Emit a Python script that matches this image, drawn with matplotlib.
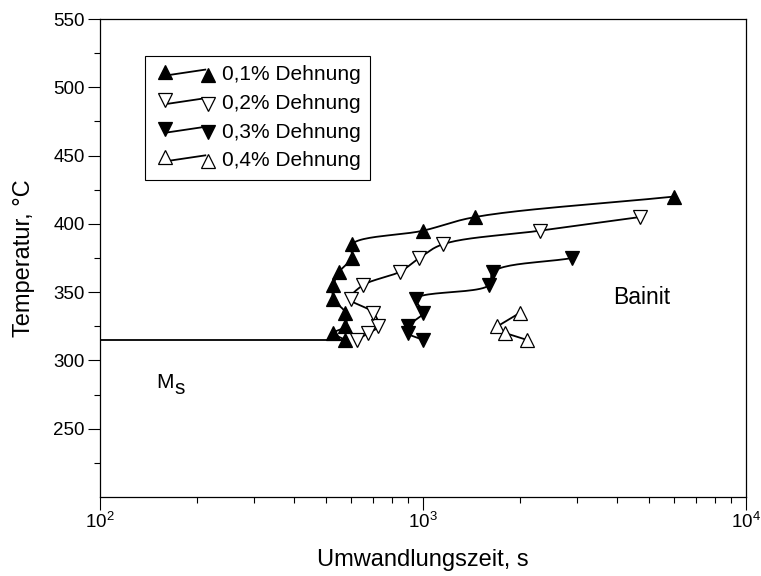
import numpy as np
import matplotlib
matplotlib.use("Agg")
import matplotlib.pyplot as plt
from matplotlib.lines import Line2D
from matplotlib.legend_handler import HandlerLine2D
from matplotlib.ticker import FixedLocator, LogLocator, NullFormatter

# Transformation times (s) and temperatures (deg C) for each strain level
t_01 = [575, 528, 575, 575, 528, 528, 551, 602, 602, 1000, 1450, 6000]
T_01 = [315, 320, 325, 335, 345, 355, 365, 375, 385, 395, 405, 420]

t_02 = [623, 677, 727, 702, 597, 651, 849, 974, 1150, 2300, 4700]
T_02 = [315, 320, 325, 335, 345, 355, 365, 375, 385, 395, 405]

t_03 = [1000, 900, 900, 1000, 950, 1600, 1650, 2900]
T_03 = [315, 320, 325, 335, 345, 355, 365, 375]

t_04 = [2000, 1700, 1800, 2100]
T_04 = [335, 325, 320, 315]

labels = ["0,1% Dehnung", "0,2% Dehnung", "0,3% Dehnung", "0,4% Dehnung"]

# Martensite start temperature line
ms_temp = 315
ms_t = [100, 575]

yticks_major = [250, 300, 350, 400, 450, 500, 550]
yticks_minor = [225, 275, 325, 375, 425, 475, 525]

plt.rcParams["font.family"] = ["Liberation Sans", "DejaVu Sans"]
plt.rcParams["mathtext.fontset"] = "custom"
plt.rcParams["mathtext.rm"] = "Liberation Sans"
plt.rcParams["mathtext.it"] = "Liberation Sans:italic"

fig = plt.figure(figsize=(7.61, 5.76), dpi=100)
ax = fig.add_axes([100 / 761, 1 - 497 / 576, 646 / 761, 478 / 576])
ax.set_xscale("log")
ax.set_xlim(100, 10000)
ax.set_ylim(200, 550)


def smooth_curve(ax, x, y, n=24):
    """Centripetal Catmull-Rom curve through the points, built in display space."""
    P = ax.transData.transform(np.column_stack([x, y]))
    P = np.vstack([2 * P[0] - P[1], P, 2 * P[-1] - P[-2]])
    out = []
    for i in range(1, len(P) - 2):
        p0, p1, p2, p3 = P[i - 1], P[i], P[i + 1], P[i + 2]
        d01 = max(np.linalg.norm(p1 - p0) ** 0.5, 1e-6)
        d12 = max(np.linalg.norm(p2 - p1) ** 0.5, 1e-6)
        d23 = max(np.linalg.norm(p3 - p2) ** 0.5, 1e-6)
        t0, t1 = 0.0, d01
        t2 = t1 + d12
        t3 = t2 + d23
        ts = np.linspace(t1, t2, n)[:, None]
        a1 = (t1 - ts) / (t1 - t0) * p0 + (ts - t0) / (t1 - t0) * p1
        a2 = (t2 - ts) / (t2 - t1) * p1 + (ts - t1) / (t2 - t1) * p2
        a3 = (t3 - ts) / (t3 - t2) * p2 + (ts - t2) / (t3 - t2) * p3
        b1 = (t2 - ts) / (t2 - t0) * a1 + (ts - t0) / (t2 - t0) * a2
        b2 = (t3 - ts) / (t3 - t1) * a2 + (ts - t1) / (t3 - t1) * a3
        c = (t2 - ts) / (t2 - t1) * b1 + (ts - t1) / (t2 - t1) * b2
        out.append(c if i == 1 else c[1:])
    curve = ax.transData.inverted().transform(np.vstack(out))
    return curve[:, 0], curve[:, 1]


lw = 1.3
ms = 9.5
mew = 0.9

series = [
    (t_01, T_01, "^", "black", True),
    (t_02, T_02, "v", "white", True),
    (t_03, T_03, "v", "black", True),
    (t_04, T_04, "^", "white", False),
]

handles = []
for (tx, ty, mk, face, smooth), lab in zip(series, labels):
    if smooth:
        cx, cy = smooth_curve(ax, tx, ty)
    else:
        cx, cy = tx, ty
    ax.plot(cx, cy, color="black", lw=lw, zorder=2)
    h, = ax.plot(tx, ty, linestyle="none", marker=mk, markersize=ms,
                 markerfacecolor=face, markeredgecolor="black",
                 markeredgewidth=mew, zorder=3, label=lab)
    handles.append(h)

ax.plot(ms_t, [ms_temp, ms_temp], color="black", lw=lw, zorder=2)


class SlantedHandler(HandlerLine2D):
    """Two markers joined by a slightly tilted line."""

    def create_artists(self, legend, orig_handle, xdescent, ydescent,
                       width, height, fontsize, trans):
        xdata, xm = self.get_xdata(legend, xdescent, ydescent, width,
                                   height, fontsize)
        yc = (height - ydescent) / 2
        link = Line2D([xm[0] + 2, xm[-1] - 2], [yc - 1.5, yc + 2.5],
                      color="black", lw=lw)
        marks = Line2D([xm[0], xm[-1]], [yc + 1.0, yc - 1.5],
                       linestyle="none", marker=orig_handle.get_marker(),
                       markersize=ms,
                       markerfacecolor=orig_handle.get_markerfacecolor(),
                       markeredgecolor="black", markeredgewidth=mew)
        link.set_transform(trans)
        marks.set_transform(trans)
        return [link, marks]


leg = ax.legend(handles=handles, labels=labels, loc="upper left",
                bbox_to_anchor=(45 / 646, 1 - 37 / 478), borderaxespad=0,
                numpoints=2, handlelength=3.1, handletextpad=0.15,
                borderpad=0.45, labelspacing=0.46, fontsize=15,
                fancybox=False, framealpha=1, edgecolor="black",
                handler_map={h: SlantedHandler(marker_pad=0.52) for h in handles})
leg.get_frame().set_linewidth(0.8)

ax.text(149, 280, "M", fontsize=15, ha="left", va="baseline")
ax.annotate("s", xy=(149, 280), xytext=(13, -4.8), textcoords="offset points",
            fontsize=15, ha="left", va="baseline")
ax.text(3870, 341.5, "Bainit", fontsize=16.5, ha="left", va="baseline")

ax.yaxis.set_major_locator(FixedLocator(yticks_major))
ax.yaxis.set_minor_locator(FixedLocator(yticks_minor))
ax.xaxis.set_major_locator(LogLocator(base=10, numticks=10))
ax.xaxis.set_minor_locator(LogLocator(base=10, subs=np.arange(2, 10), numticks=10))
ax.xaxis.set_minor_formatter(NullFormatter())

ax.tick_params(which="both", direction="out", top=False, right=False,
               width=0.8, labelsize=13.5, pad=2)
ax.tick_params(which="major", length=9)
ax.tick_params(which="minor", length=4.5)
for sp in ax.spines.values():
    sp.set_linewidth(0.9)

ax.set_xlabel("Umwandlungszeit, s", fontsize=17, labelpad=12)
ax.set_ylabel("Temperatur, °C", fontsize=17, labelpad=13)

fig.savefig("out.png", dpi=100)
